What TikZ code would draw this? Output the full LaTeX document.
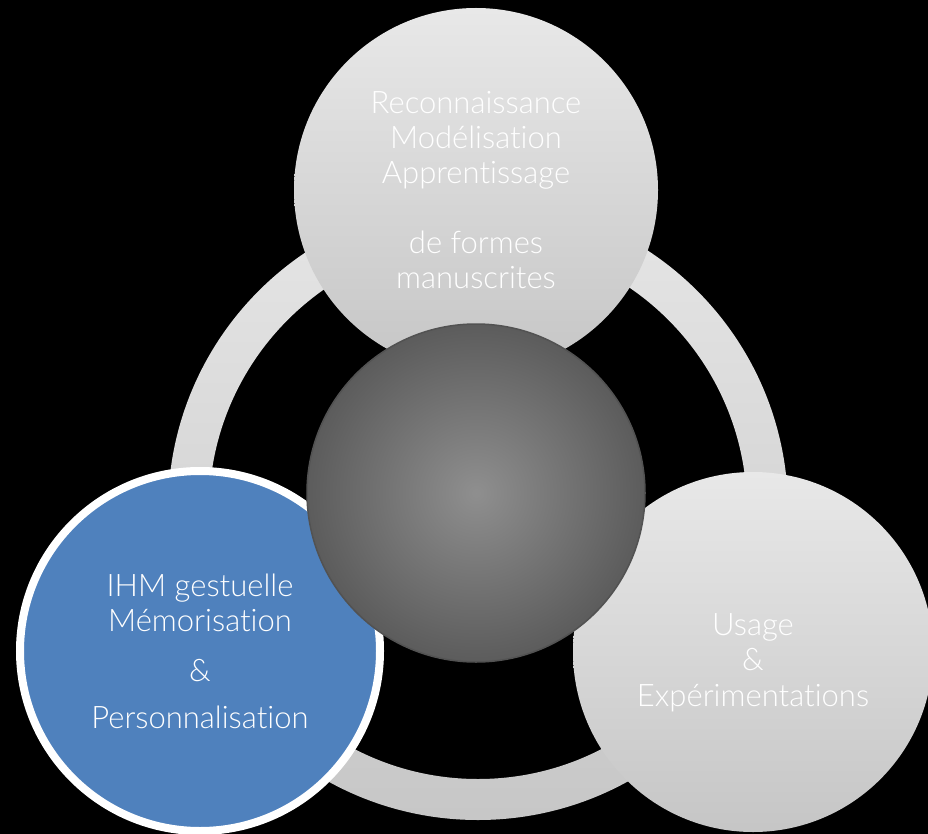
\documentclass[tikz,border=0pt]{standalone}
\usepackage{fontspec}
\setmainfont{Lato Light}[Ligatures=NoCommon]
\definecolor{hmiblue}{HTML}{4F81BD}

\begin{document}
\begin{tikzpicture}[x=1pt,y=-1pt,
        bubble/.style={circle, inner sep=0pt, align=center, text=white,
            font=\fontsize{31}{35}\selectfont},
        greybubble/.style={bubble, top color=gray!18, bottom color=gray!45},
        core/.style={circle, inner sep=0pt, inner color=black!44,
            outer color=black!64, draw=black!68, line width=1.5pt}]
        \useasboundingbox (0,0) rectangle (928,834);
        \fill[black] (0,0) rectangle (928,834);

        % ring behind the three themes
        \coordinate (hub) at (478,510);
        \shade[top color=gray!20, bottom color=gray!44, even odd rule]
        (hub) circle (310pt) (hub) circle (269pt);

        \node[greybubble, minimum size=364pt] (formes) at (476,190)
        {Reconnaissance\\Modélisation\\Apprentissage\\[35pt]de formes\\manuscrites};
        \node[greybubble, minimum size=360pt] (usage) at (753,652)
        {\rule{0pt}{44pt}Usage\\\&\\[1pt]Expérimentations};
        \node[bubble, fill=hmiblue, draw=white, line width=8pt,
        minimum size=360pt] (ihm) at (200,651)
        {IHM gestuelle\\Mémorisation\\[15pt]\&\\[12pt]Personnalisation};

        % dark disc in the middle
        \node[core, minimum size=338pt] (centre) at (476,493) {};
    \end{tikzpicture}
\end{document}
